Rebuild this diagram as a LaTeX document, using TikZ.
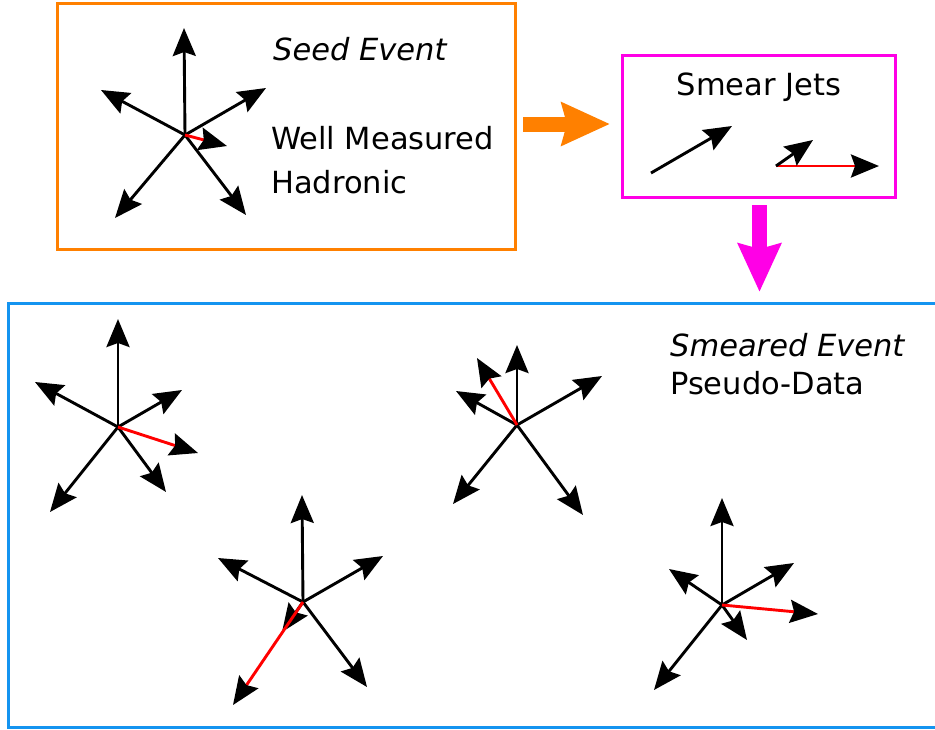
\documentclass[tikz,border=0pt]{standalone}
\usepackage{fontspec}
\setmainfont{DejaVu Sans}
\usetikzlibrary{arrows.meta}
\definecolor{seedorange}{RGB}{255,128,0}
\definecolor{smearmag}{RGB}{255,0,230}
\definecolor{evblue}{RGB}{20,148,240}
\tikzset{
  jet/.style={line width=2.9pt, -{Stealth[length=28pt,width=23pt,inset=4pt]}},
  rjet/.style={line width=2.9pt, red, -{Stealth[length=28pt,width=23pt,inset=4pt,color=black]}},
  box/.style={draw, line width=3pt, inner sep=0pt, fill=none},
  lbl/.style={anchor=base west, inner sep=0pt, font=\fontsize{30.5}{36}\selectfont},
  fatarrow/.style={line width=15pt, -{Stealth[length=48pt,width=42pt,inset=5pt]}},
}
\begin{document}
\begin{tikzpicture}[x=1pt,y=-1pt]
\clip (0,0) rectangle (935,729);
\fill[white] (0,0) rectangle (935,729);

% boxes
\node[box, draw=seedorange, minimum width=458pt, minimum height=246pt] (seed) at (286,126) {};
\node[box, draw=smearmag, minimum width=273pt, minimum height=142pt] (smear) at (758.5,126) {};
\node[box, draw=evblue, minimum width=960pt, minimum height=424pt] (ev) at (488,515) {};

% texts
\node[lbl] (seedt) at (273,60) {\itshape Seed Event};
\node[lbl] (wm) at (271,149) {Well Measured};
\node[lbl] (had) at (271,193) {Hadronic};
\node[lbl, anchor=base] (smt) at (759,95) {Smear Jets};
\node[lbl] (sevt) at (670,356) {\itshape Smeared Event};
\node[lbl] (pd) at (670,394) {Pseudo-Data};

% big arrows
\coordinate (oa1) at (523,124);
\coordinate (oa2) at (610,124);
\draw[fatarrow, seedorange] (oa1) -- (oa2);
\coordinate (ma1) at (759.5,205);
\coordinate (ma2) at (759.5,292);
\draw[fatarrow, smearmag] (ma1) -- (ma2);

% seed star
\coordinate (s0) at (185,135);
\coordinate (s0a) at (184,28);
\coordinate (s0b) at (101,90);
\coordinate (s0c) at (266,88);
\coordinate (s0d) at (115,218);
\coordinate (s0e) at (246,215);
\coordinate (s0f) at (227,146);
\foreach \t in {a,b,c,d,e} \draw[jet] (s0) -- (s0\t);
\draw[rjet] (s0) -- (s0f);

% smear jets
\coordinate (j1s) at (651,173);
\coordinate (j1e) at (732,126);
\draw[jet] (j1s) -- (j1e);
\coordinate (j2s) at (776,166);
\coordinate (j2e) at (813,140);
\coordinate (j3e) at (879,166);
\draw[rjet] (j2s) -- (j3e);
\draw[jet] (j2s) -- (j2e);

% star 1
\coordinate (a0) at (118,427);
\coordinate (aa) at (118,319);
\coordinate (ab) at (35,382);
\coordinate (ac) at (182,390);
\coordinate (ad) at (50,512);
\coordinate (ae) at (166,492);
\coordinate (af) at (198,453);
\foreach \t in {a,b,c,d,e} \draw[jet] (a0) -- (a\t);
\draw[rjet] (a0) -- (af);

% star 2
\coordinate (b0) at (517,425);
\coordinate (ba) at (517,345);
\coordinate (bb) at (456,391);
\coordinate (bc) at (602,376);
\coordinate (bd) at (453,504);
\coordinate (be) at (583,515);
\coordinate (bf) at (477,358);
\foreach \t in {a,b,c,d,e} \draw[jet] (b0) -- (b\t);
\draw[rjet] (b0) -- (bf);

% star 3
\coordinate (c0) at (303,602);
\coordinate (ca) at (302,495);
\coordinate (cb) at (218,558);
\coordinate (cc) at (383,556);
\coordinate (ce) at (367,687);
\coordinate (cg) at (282,632);
\coordinate (cf) at (233,705);
\foreach \t in {a,b,c,e,g} \draw[jet] (c0) -- (c\t);
\draw[rjet] (c0) -- (cf);

% star 4
\coordinate (d0) at (722,605);
\coordinate (da) at (722,498);
\coordinate (db) at (669,569);
\coordinate (dc) at (794,563);
\coordinate (dd) at (654,690);
\coordinate (de) at (747,640);
\coordinate (df) at (818,614);
\foreach \t in {a,b,c,d,e} \draw[jet] (d0) -- (d\t);
\draw[rjet] (d0) -- (df);
\end{tikzpicture}
\end{document}
